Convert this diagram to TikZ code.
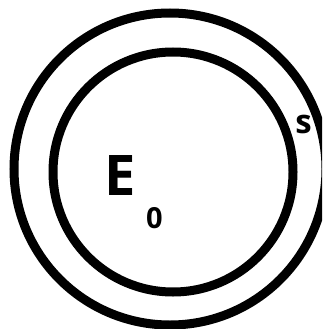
\documentclass[tikz,border=0pt]{standalone}
\usepackage{fontspec}
\setmainfont{Open Sans}
\begin{document}
\begin{tikzpicture}[x=1pt,y=-1pt,
  ring/.style={draw=black,circle,line width=9pt,inner sep=0pt,outer sep=0pt},
  lbl/.style={inner sep=0pt,anchor=base,font=\bfseries}]
\useasboundingbox (0,0) rectangle (322,329);
\clip (0,0) rectangle (322,329);
\node[ring,minimum size=312pt] (outer) at (170,169) {};
\node[ring,minimum size=240pt] (inner) at (173,172) {};
\node[lbl,font=\fontsize{56}{56}\selectfont\bfseries] (E) at (120,195) {E};
\node[lbl,font=\fontsize{29}{29}\selectfont\bfseries] (zero) at (154.5,228) {0};
\node[lbl,font=\fontsize{33}{33}\selectfont\bfseries] (s) at (303.5,133) {s};
\end{tikzpicture}
\end{document}
